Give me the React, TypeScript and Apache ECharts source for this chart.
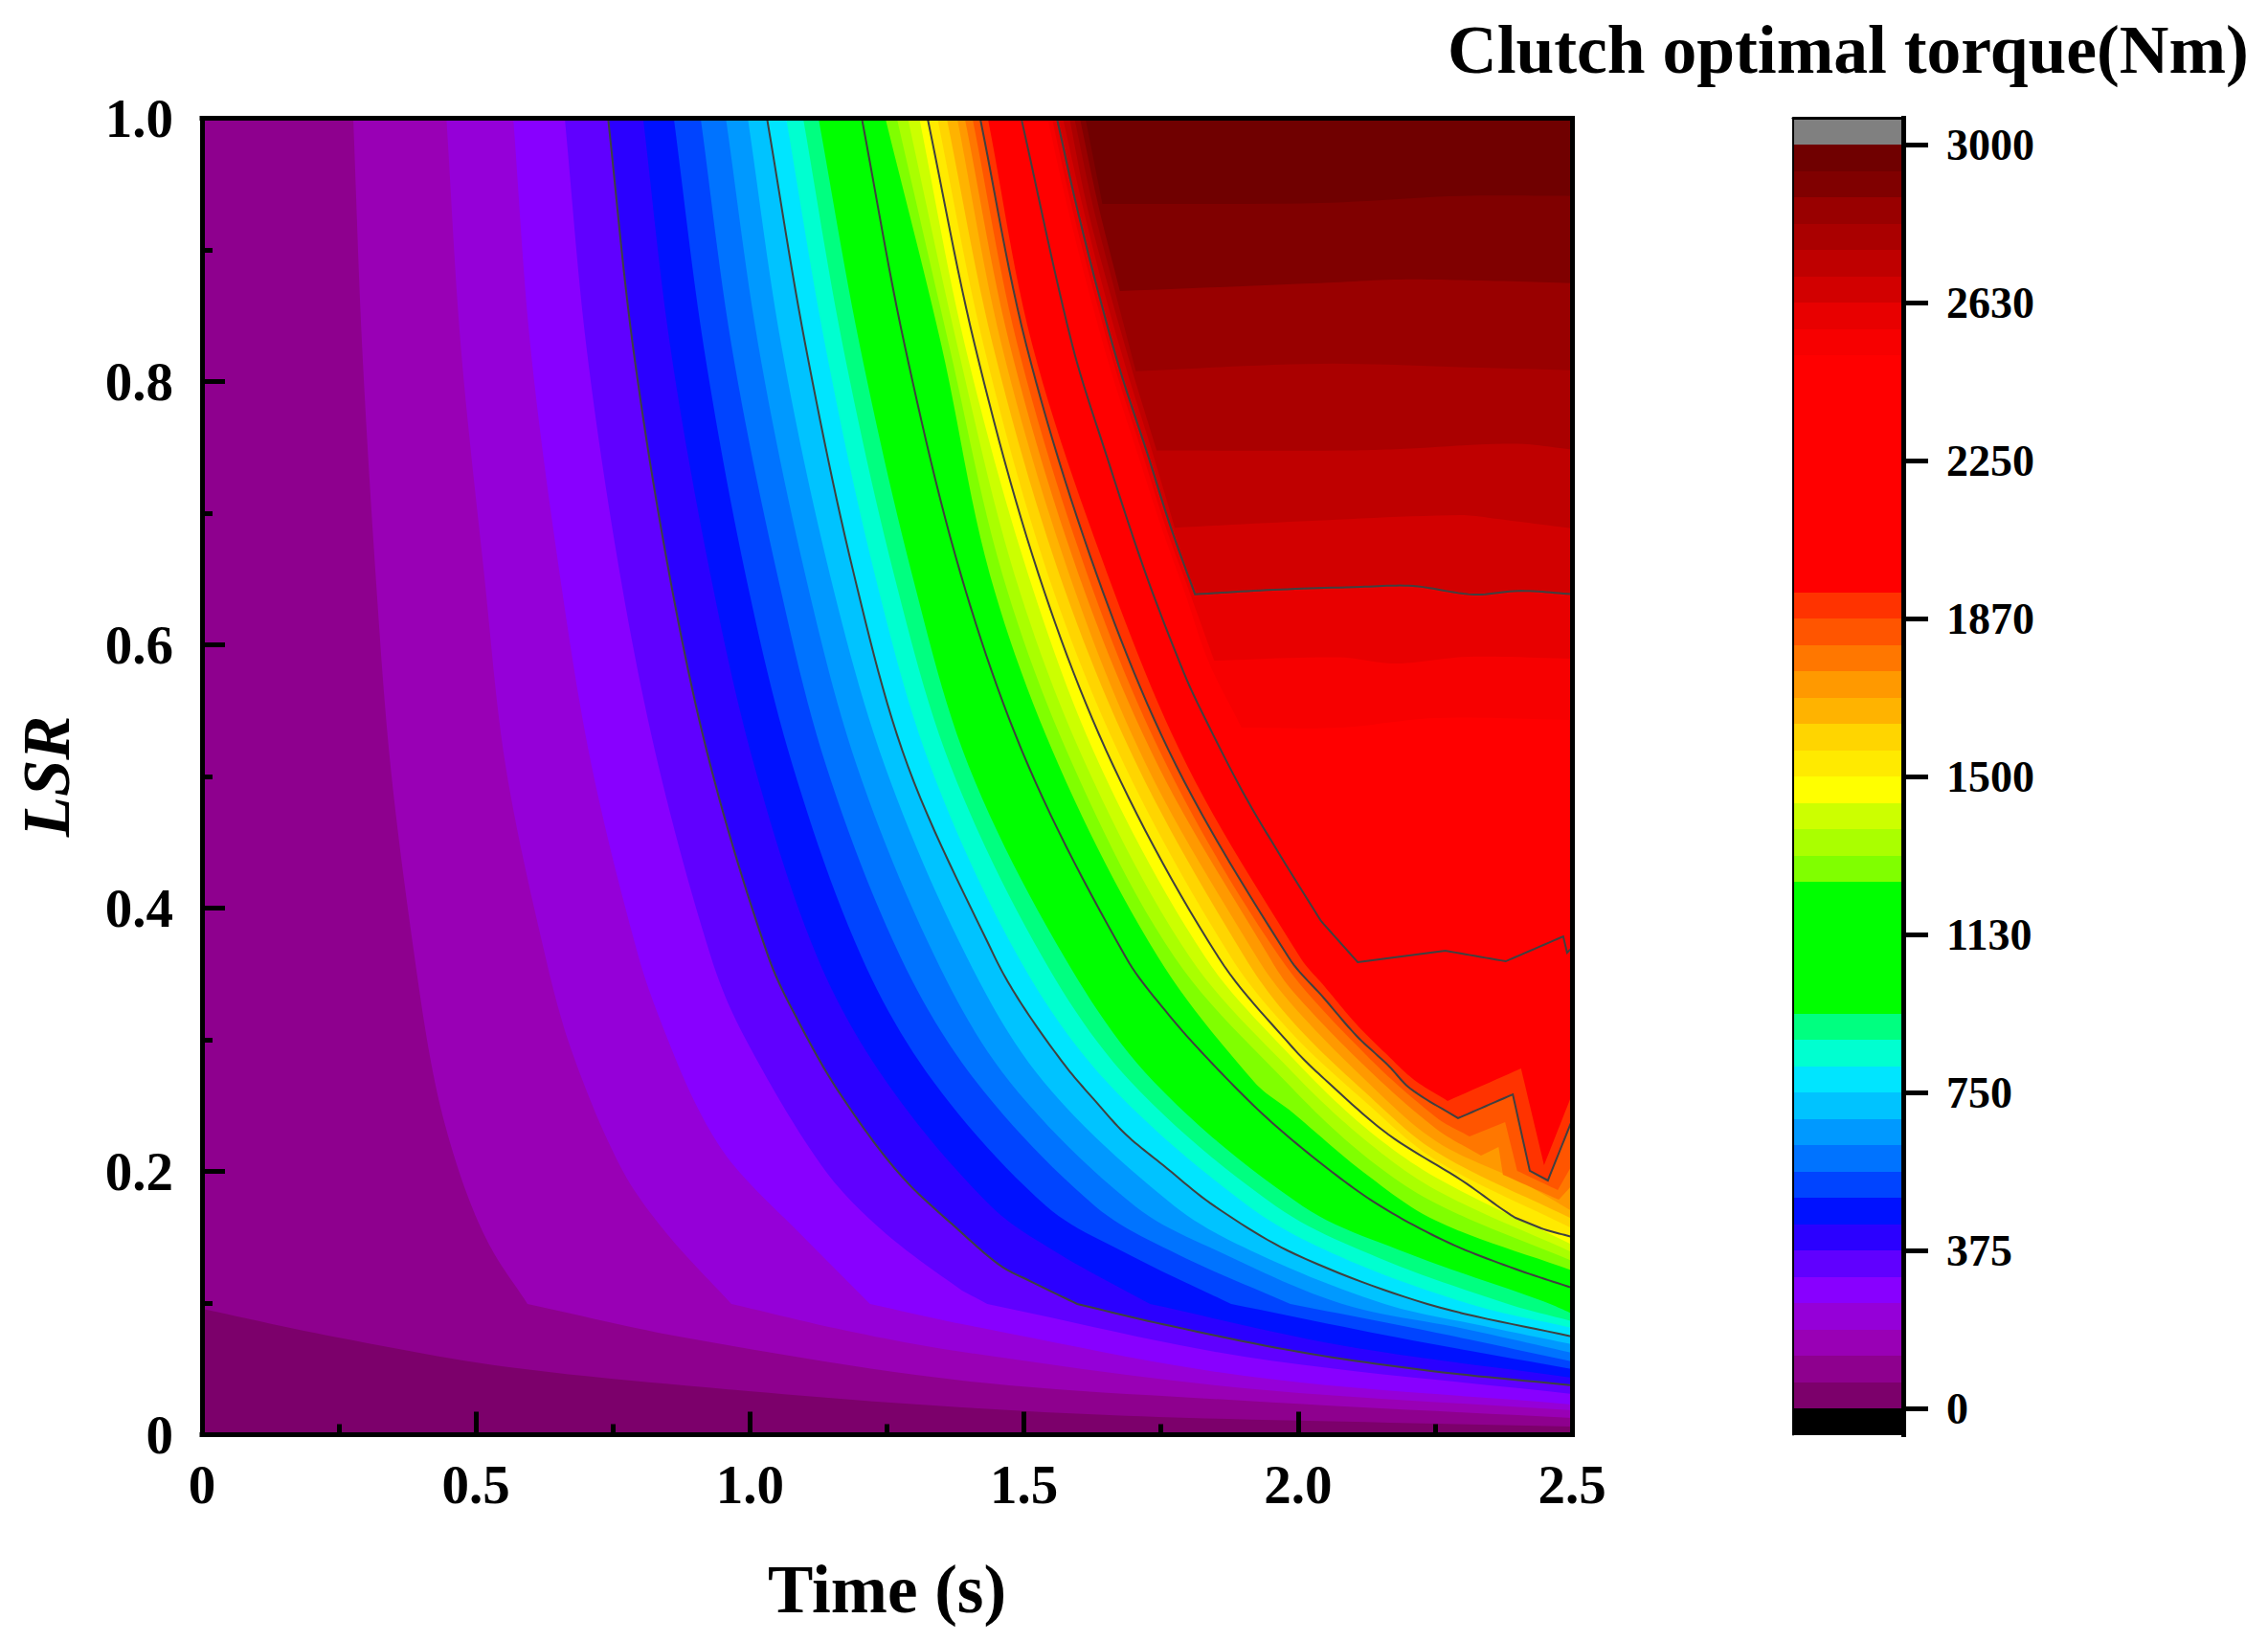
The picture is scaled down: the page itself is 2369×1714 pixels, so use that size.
import React, { useEffect, useRef } from "react";
import * as echarts from "echarts";

type P = number[];

// Band colours from 0 upward, one per 62.5 Nm
const bandColors = [
  "#7C006B", "#8E008E", "#9900B5", "#9500D8", "#8800FF", "#6000FF", "#2B00FF", "#0011FF",
  "#0044FF", "#0073FF", "#0099FF", "#00C3FF", "#00E5FF", "#00FFD0", "#00FF80", "#00FF00",
  "#00FF00", "#00FF00", "#00FF00", "#00FF00", "#80FF00", "#AAFF00", "#CCFF00", "#FFFF00",
  "#FFEA00", "#FFD500", "#FFB300", "#FF9900", "#FF7700", "#FF5500", "#FF3300", "#FF0000",
  "#FF0000", "#FF0000", "#FF0000", "#FF0000", "#FF0000", "#FF0000", "#FF0000", "#FF0000",
  "#F70000", "#E80000", "#D20000", "#BF0000", "#AA0000", "#990000", "#800000", "#700000",
];
const bandStep = 62.5;
const underColor = "#000000";
const overColor = "#808080";
const colorbarTickValues = [0, 375, 750, 1125, 1500, 1875, 2250, 2625, 3000];
const colorbarTickLabels = ["0", "375", "750", "1130", "1500", "1870", "2250", "2630", "3000"];
const contourLineLevels = [6, 12, 18, 24, 30, 36, 42];
// Grid row on which the reference's contours bend
const bendRow = 0.0993;

// Contour boundaries: [time, LSR], named by band index (level = index x 62.5 Nm)
const L0: P[] = [[0, 0], [2.5, 0]];
const L1: P[] = [[0, 0.0956], [0.248, 0.0738], [0.56, 0.0513], [0.997, 0.0331], [1.387, 0.0207], [1.745, 0.0135], [2.252, 0.0084], [2.5, 0.0062]];
const L2: P[] = [[0.276, 1], [0.292, 0.828], [0.318, 0.646], [0.344, 0.508], [0.388, 0.3625], [0.426, 0.2658], [0.471, 0.1975], [0.524, 0.1444], [0.594, 0.0993], [0.88, 0.0738], [1.387, 0.0411], [1.902, 0.0258], [2.5, 0.0127]];
const L3: P[] = [[0.446, 1], [0.472, 0.828], [0.515, 0.653], [0.554, 0.508], [0.627, 0.3625], [0.676, 0.2898], [0.765, 0.2025], [0.846, 0.1538], [0.966, 0.0993], [1.177, 0.0789], [1.387, 0.0629], [1.902, 0.0353], [2.5, 0.0185]];
const L4: P[] = [[0.568, 1], [0.599, 0.828], [0.653, 0.653], [0.711, 0.508], [0.797, 0.3625], [0.846, 0.3044], [0.907, 0.2462], [0.97, 0.2047], [1.094, 0.1516], [1.219, 0.0993], [1.387, 0.084], [1.902, 0.0447], [2.5, 0.0229]];
const L5: P[] = [[0.662, 1], [0.701, 0.828], [0.763, 0.653], [0.833, 0.508], [0.929, 0.3625], [0.987, 0.3044], [1.13, 0.2047], [1.237, 0.1567], [1.387, 0.1095], [1.433, 0.0993], [1.902, 0.0593], [2.5, 0.0309]];
const L6: P[] = [[0.741, 1], [0.786, 0.828], [0.853, 0.653], [0.928, 0.508], [1.034, 0.3625], [1.094, 0.3095], [1.165, 0.2585], [1.274, 0.1975], [1.387, 0.1531], [1.457, 0.1284], [1.511, 0.1167], [1.597, 0.0993], [1.752, 0.084], [2.002, 0.0629], [2.243, 0.0484], [2.5, 0.0375]];
const L7: P[] = [[0.805, 1], [0.854, 0.828], [0.928, 0.653], [1.008, 0.508], [1.123, 0.3625], [1.249, 0.268], [1.44, 0.1735], [1.565, 0.1371], [1.73, 0.0993], [2.077, 0.068], [2.5, 0.0433]];
const L8: P[] = [[0.861, 1], [0.915, 0.828], [0.992, 0.653], [1.078, 0.508], [1.204, 0.3625], [1.335, 0.268], [1.541, 0.1735], [1.69, 0.1371], [1.878, 0.0993], [2.182, 0.0738], [2.5, 0.0498]];
const L9: P[] = [[0.91, 1], [0.966, 0.828], [1.05, 0.653], [1.139, 0.508], [1.275, 0.3625], [1.413, 0.268], [1.63, 0.1735], [1.78, 0.1371], [1.986, 0.0993], [2.252, 0.0775], [2.5, 0.0556]];
const L10: P[] = [[0.956, 1], [1.015, 0.828], [1.101, 0.653], [1.195, 0.508], [1.338, 0.3625], [1.474, 0.268], [1.703, 0.1735], [1.866, 0.1371], [2.081, 0.0993], [2.304, 0.0804], [2.5, 0.0622]];
const L11: P[] = [[0.996, 1], [1.057, 0.828], [1.146, 0.653], [1.246, 0.508], [1.396, 0.3625], [1.536, 0.268], [1.775, 0.1735], [1.928, 0.1371], [2.158, 0.0993], [2.339, 0.0825], [2.5, 0.0687]];
const L12: P[] = [[1.031, 1], [1.101, 0.828], [1.19, 0.653], [1.288, 0.508], [1.447, 0.3625], [1.497, 0.3262], [1.575, 0.2804], [1.63, 0.2535], [1.686, 0.228], [1.754, 0.2047], [1.848, 0.1735], [1.995, 0.1371], [2.236, 0.0993], [2.5, 0.0745]];
const L13: P[] = [[1.066, 1], [1.137, 0.828], [1.228, 0.653], [1.329, 0.508], [1.49, 0.3625], [1.651, 0.268], [1.91, 0.1735], [2.077, 0.1352], [2.313, 0.0993], [2.5, 0.0811]];
const L14: P[] = [[1.097, 1], [1.169, 0.828], [1.263, 0.653], [1.366, 0.508], [1.534, 0.3625], [1.695, 0.268], [1.96, 0.1735], [2.147, 0.1344], [2.383, 0.0993], [2.5, 0.0862]];
const L15: P[] = [[1.125, 1], [1.2, 0.828], [1.296, 0.653], [1.399, 0.508], [1.574, 0.3625], [1.737, 0.268], [2.009, 0.1735], [2.199, 0.138], [2.448, 0.1013], [2.5, 0.092]];
const L18: P[] = [[1.204, 1], [1.282, 0.828], [1.385, 0.653], [1.508, 0.508], [1.686, 0.3625], [1.765, 0.3185], [1.843, 0.2822], [1.943, 0.2407], [2.054, 0.2022], [2.151, 0.1735], [2.275, 0.1458], [2.397, 0.1258], [2.5, 0.1116]];
const L20: P[] = [[1.247, 1], [1.349, 0.828], [1.438, 0.653], [1.564, 0.508], [1.745, 0.3625], [1.92, 0.268], [1.99, 0.2447], [2.121, 0.1989], [2.252, 0.1625], [2.5, 0.1247]];
const L21: P[] = [[1.268, 1], [1.363, 0.828], [1.461, 0.653], [1.59, 0.508], [1.775, 0.3625], [1.99, 0.2629], [2.121, 0.212], [2.252, 0.1756], [2.5, 0.132]];
const L22: P[] = [[1.288, 1], [1.378, 0.828], [1.483, 0.653], [1.614, 0.508], [1.803, 0.3625], [1.99, 0.2753], [2.121, 0.2244], [2.252, 0.1858], [2.5, 0.1386]];
const L23: P[] = [[1.309, 1], [1.392, 0.828], [1.508, 0.653], [1.639, 0.508], [1.831, 0.3625], [1.99, 0.2862], [2.121, 0.2338], [2.252, 0.1953], [2.5, 0.1444]];
const L24: P[] = [[1.324, 1], [1.41, 0.828], [1.527, 0.653], [1.663, 0.508], [1.855, 0.3625], [1.99, 0.2942], [2.054, 0.268], [2.165, 0.228], [2.299, 0.1931], [2.397, 0.1647], [2.444, 0.1567], [2.5, 0.1502]];
const L25: P[] = [[1.342, 1], [1.426, 0.828], [1.544, 0.653], [1.684, 0.508], [1.878, 0.3625], [1.99, 0.3044], [2.121, 0.2535], [2.252, 0.2084], [2.5, 0.1567]];
const L26: P[] = [[1.359, 1], [1.443, 0.828], [1.565, 0.653], [1.707, 0.508], [1.903, 0.3625], [1.99, 0.3138], [2.121, 0.2607], [2.252, 0.2149], [2.5, 0.164]];
const L27: P[] = [[1.378, 1], [1.459, 0.828], [1.583, 0.653], [1.724, 0.508], [1.925, 0.3625], [1.99, 0.3262], [2.121, 0.2702], [2.252, 0.2229], [2.409, 0.1916], [2.5, 0.1698]];
const L28: P[] = [[1.392, 1], [1.474, 0.828], [1.6, 0.653], [1.745, 0.508], [1.948, 0.3625], [1.99, 0.3371], [2.121, 0.2804], [2.252, 0.2324], [2.334, 0.212], [2.366, 0.2185], [2.374, 0.1975], [2.476, 0.1785], [2.5, 0.1895]];
const L29: P[] = [[1.406, 1], [1.488, 0.828], [1.616, 0.653], [1.761, 0.508], [1.967, 0.3625], [2.121, 0.2898], [2.252, 0.2411], [2.313, 0.2265], [2.378, 0.2375], [2.4, 0.2004], [2.474, 0.1858], [2.5, 0.2047]];
const L30: P[] = [[1.42, 1], [1.504, 0.828], [1.633, 0.653], [1.778, 0.508], [1.983, 0.3625], [2.048, 0.3313], [2.107, 0.3029], [2.165, 0.2804], [2.205, 0.2629], [2.292, 0.2404], [2.392, 0.2585], [2.423, 0.2004], [2.456, 0.1931], [2.5, 0.2389]];
const L31: P[] = [[1.434, 1], [1.515, 0.828], [1.653, 0.653], [1.798, 0.508], [2.004, 0.3625], [2.048, 0.3407], [2.107, 0.3116], [2.165, 0.2876], [2.212, 0.2695], [2.273, 0.2535], [2.407, 0.2782], [2.449, 0.2047], [2.5, 0.2585]];
const L36: P[] = [[1.495, 1], [1.588, 0.828], [1.653, 0.7407], [1.723, 0.653], [1.792, 0.5785], [1.824, 0.5495], [1.899, 0.4884], [1.967, 0.4404], [2.042, 0.3902], [2.109, 0.3589], [2.269, 0.3676], [2.379, 0.3596], [2.484, 0.3785], [2.491, 0.3662], [2.5, 0.3698]];
const L40: P[] = [[1.543, 1], [1.578, 0.9347], [1.618, 0.8687], [1.659, 0.8076], [1.705, 0.748], [1.751, 0.689], [1.794, 0.6389], [1.836, 0.588], [1.897, 0.5371], [2.077, 0.5371], [2.252, 0.5444], [2.5, 0.5429]];
const L41: P[] = [[1.551, 1], [1.586, 0.9347], [1.627, 0.8687], [1.668, 0.8076], [1.714, 0.748], [1.759, 0.689], [1.803, 0.6389], [1.847, 0.588], [2.077, 0.5905], [2.177, 0.5858], [2.31, 0.5909], [2.5, 0.5895]];
const L42: P[] = [[1.56, 1], [1.595, 0.9349], [1.635, 0.8687], [1.676, 0.8076], [1.723, 0.748], [1.768, 0.689], [1.812, 0.6384], [1.955, 0.6418], [2.114, 0.644], [2.21, 0.6447], [2.32, 0.6382], [2.407, 0.641], [2.5, 0.6385]];
const L43: P[] = [[1.571, 1], [1.606, 0.9349], [1.646, 0.8687], [1.688, 0.8076], [1.733, 0.748], [1.775, 0.689], [2.025, 0.6942], [2.297, 0.6985], [2.364, 0.6956], [2.5, 0.6884]];
const L44: P[] = [[1.583, 1], [1.614, 0.9349], [1.656, 0.8687], [1.698, 0.8076], [1.742, 0.7476], [2.077, 0.7476], [2.187, 0.7487], [2.393, 0.7528], [2.5, 0.7484]];
const L45: P[] = [[1.592, 1], [1.625, 0.9349], [1.666, 0.8687], [1.704, 0.8079], [2.041, 0.8135], [2.334, 0.8105], [2.5, 0.8086]];
const L46: P[] = [[1.602, 1], [1.635, 0.9349], [1.675, 0.8687], [2.041, 0.8748], [2.187, 0.8775], [2.334, 0.8767], [2.5, 0.8748]];
const L47: P[] = [[1.612, 1], [1.643, 0.9349], [2.041, 0.9356], [2.297, 0.941], [2.5, 0.941]];

const boundaries: [number, P[]][] = [
  [0, L0], [1, L1], [2, L2], [3, L3], [4, L4], [5, L5], [6, L6], [7, L7], [8, L8], [9, L9], [10, L10],
  [11, L11], [12, L12], [13, L13], [14, L14], [15, L15], [18, L18], [20, L20], [21, L21], [22, L22],
  [23, L23], [24, L24], [25, L25], [26, L26], [27, L27], [28, L28], [29, L29], [30, L30], [31, L31],
  [36, L36], [40, L40], [41, L41], [42, L42], [43, L43], [44, L44], [45, L45], [46, L46], [47, L47],
];

const SERIF = "'Liberation Serif', 'Times New Roman', serif";

// Draw a curve through its read points, keeping real corners sharp
function smoothed(px: number[][], data: P[], level: number): number[][] {
  const n = px.length;
  if (n < 3) return px;
  const unit = (a: number[], b: number[]) => {
    const dx = b[0] - a[0], dy = b[1] - a[1];
    const l = Math.hypot(dx, dy) || 1;
    return [dx / l, dy / l];
  };
  const dirs: (number[] | null)[] = px.map((p, i) => {
    if (i === 0 || i === n - 1) return null;
    const a = unit(px[i - 1], p), b = unit(p, px[i + 1]);
    const cos = a[0] * b[0] + a[1] * b[1];
    const limit = level === 36 ? 6 : Math.abs(data[i][1] - bendRow) < 0.0005 ? 12 : 35;
    if (cos < Math.cos((limit * Math.PI) / 180)) return null;
    return unit(px[i - 1], px[i + 1]);
  });
  const out: number[][] = [px[0]];
  for (let i = 0; i < n - 1; i++) {
    const a = px[i], b = px[i + 1];
    const l = Math.hypot(b[0] - a[0], b[1] - a[1]);
    const ch = unit(a, b);
    const d0 = dirs[i] || ch, d1 = dirs[i + 1] || ch;
    const steps = l > 30 ? 12 : 1;
    for (let s = 1; s <= steps; s++) {
      const u = s / steps, u2 = u * u, u3 = u2 * u;
      const h00 = 2 * u3 - 3 * u2 + 1, h10 = u3 - 2 * u2 + u, h01 = -2 * u3 + 3 * u2, h11 = u3 - u2;
      out.push([
        h00 * a[0] + h10 * l * d0[0] + h01 * b[0] + h11 * l * d1[0],
        h00 * a[1] + h10 * l * d0[1] + h01 * b[1] + h11 * l * d1[1],
      ]);
    }
  }
  return out;
}

const thickAxis = { lineStyle: { color: "#000", width: 5, cap: "square" } };

export default function App() {
  const ref = useRef<HTMLDivElement>(null);
  useEffect(() => {
    const chart = echarts.init(ref.current!, null, { renderer: "svg" });
    const lineBoundaries = boundaries.filter((b) => contourLineLevels.includes(b[0]));
    const barBands: any[] = [
      [-bandStep, 0, underColor],
      ...bandColors.map((c, i) => [i * bandStep, (i + 1) * bandStep, c]),
      [bandColors.length * bandStep, (bandColors.length + 1) * bandStep, overColor],
    ];
    chart.setOption({
      animation: false,
      backgroundColor: "#fff",
      title: {
        text: "Clutch optimal torque(Nm)",
        left: 1507,
        top: 10,
        textStyle: { fontFamily: SERIF, fontWeight: "bold", fontSize: 71.5, color: "#000" },
      },
      grid: [
        { left: 211, top: 123.5, width: 1431, height: 1375 },
        { left: 1873, top: 123.5, width: 115, height: 1375 },
      ],
      xAxis: [
        {
          type: "value", gridIndex: 0, min: 0, max: 2.5, interval: 0.5, position: "bottom", z: 10,
          name: "Time (s)", nameLocation: "middle", nameGap: 126,
          nameTextStyle: { fontFamily: SERIF, fontWeight: "bold", fontSize: 71, color: "#000" },
          axisLine: { show: true, onZero: false, ...thickAxis },
          axisTick: { show: true, inside: true, length: 24, lineStyle: { color: "#000", width: 5 } },
          minorTick: { show: true, splitNumber: 2, length: 11, lineStyle: { color: "#000", width: 5 } },
          axisLabel: {
            margin: 23, fontFamily: SERIF, fontWeight: "bold", fontSize: 57, color: "#000",
            formatter: (v: number) => (v === 0 ? "0" : v.toFixed(1)),
          },
          splitLine: { show: false },
        },
        {
          type: "value", gridIndex: 0, min: 0, max: 2.5, position: "top", z: 10,
          axisLine: { show: true, onZero: false, ...thickAxis },
          axisTick: { show: false }, axisLabel: { show: false }, splitLine: { show: false },
        },
        {
          type: "value", gridIndex: 1, min: 0, max: 1, position: "top", z: 10,
          axisLine: { show: true, onZero: false, lineStyle: { color: "#000", width: 3 } },
          axisTick: { show: false }, axisLabel: { show: false }, splitLine: { show: false },
        },
      ],
      yAxis: [
        {
          type: "value", gridIndex: 0, min: 0, max: 1, interval: 0.2, position: "left", z: 10,
          name: "LSR", nameLocation: "middle", nameGap: 128,
          nameTextStyle: { fontFamily: SERIF, fontWeight: "bold", fontStyle: "italic", fontSize: 69, color: "#000" },
          axisLine: { show: true, onZero: false, ...thickAxis },
          axisTick: { show: true, inside: true, length: 24, lineStyle: { color: "#000", width: 5 } },
          minorTick: { show: true, splitNumber: 2, length: 11, lineStyle: { color: "#000", width: 5 } },
          axisLabel: {
            margin: 30, padding: [0, 0, 8, 0], verticalAlign: "middle", fontFamily: SERIF, fontWeight: "bold", fontSize: 57, color: "#000",
            formatter: (v: number) => (v === 0 ? "0" : v.toFixed(1)),
          },
          splitLine: { show: false },
        },
        {
          type: "value", gridIndex: 0, min: 0, max: 1, position: "right", z: 10,
          axisLine: { show: true, onZero: false, ...thickAxis },
          axisTick: { show: false }, axisLabel: { show: false }, splitLine: { show: false },
        },
        {
          type: "value", gridIndex: 1, min: -bandStep, max: 3000 + bandStep, position: "right", z: 10,
          axisLine: { show: true, onZero: false, ...thickAxis },
          axisTick: {
            show: true, length: 26, customValues: colorbarTickValues,
            lineStyle: { color: "#000", width: 5 },
          },
          axisLabel: {
            margin: 45, customValues: colorbarTickValues, fontFamily: SERIF, fontWeight: "bold", fontSize: 46, color: "#000",
            formatter: (v: number) => colorbarTickLabels[colorbarTickValues.indexOf(v)],
          },
          splitLine: { show: false },
        },
        {
          type: "value", gridIndex: 1, min: -bandStep, max: 3000 + bandStep, position: "left", z: 10,
          axisLine: { show: true, onZero: false, lineStyle: { color: "#000", width: 2 } },
          axisTick: { show: false }, axisLabel: { show: false }, splitLine: { show: false },
        },
      ],
      series: [
        {
          type: "custom", coordinateSystem: "cartesian2d", xAxisIndex: 0, yAxisIndex: 0, clip: true, silent: true, z: 2,
          data: boundaries.map((b) => b[0]),
          renderItem: (params: any, api: any) => {
            const [idx, pts] = boundaries[params.dataIndex];
            const curve = smoothed(pts.map((p) => api.coord(p)), pts, idx);
            const closing: P[] = [[2.5, 1]];
            if (pts[0][0] === 0) closing.push([0, 1]);
            return {
              type: "polygon",
              shape: { points: [...curve, ...closing.map((p) => api.coord(p))] },
              style: { fill: bandColors[idx] },
            };
          },
        },
        {
          type: "custom", coordinateSystem: "cartesian2d", xAxisIndex: 0, yAxisIndex: 0, clip: true, silent: true, z: 3,
          data: lineBoundaries.map((b) => b[0]),
          renderItem: (params: any, api: any) => {
            const [idx, pts] = lineBoundaries[params.dataIndex];
            return {
              type: "polyline",
              shape: { points: smoothed(pts.map((p) => api.coord(p)), pts, idx) },
              style: { fill: "none", stroke: "#404040", lineWidth: 2 },
            };
          },
        },
        {
          type: "custom", coordinateSystem: "cartesian2d", xAxisIndex: 2, yAxisIndex: 2, silent: true, z: 2,
          data: barBands.map((b, i) => i),
          renderItem: (params: any, api: any) => {
            const b = barBands[params.dataIndex];
            const a = api.coord([0, b[1]]);
            const c = api.coord([1, b[0]]);
            const top = Math.round(a[1]);
            return {
              type: "rect",
              shape: { x: a[0], y: top, width: c[0] - a[0], height: Math.round(c[1]) - top },
              style: { fill: b[2] },
            };
          },
        },
      ],
    });
    return () => chart.dispose();
  }, []);
  return <div ref={ref} style={{ position: "absolute", left: 0, top: 0, width: 2369, height: 1714 }} />;
}
